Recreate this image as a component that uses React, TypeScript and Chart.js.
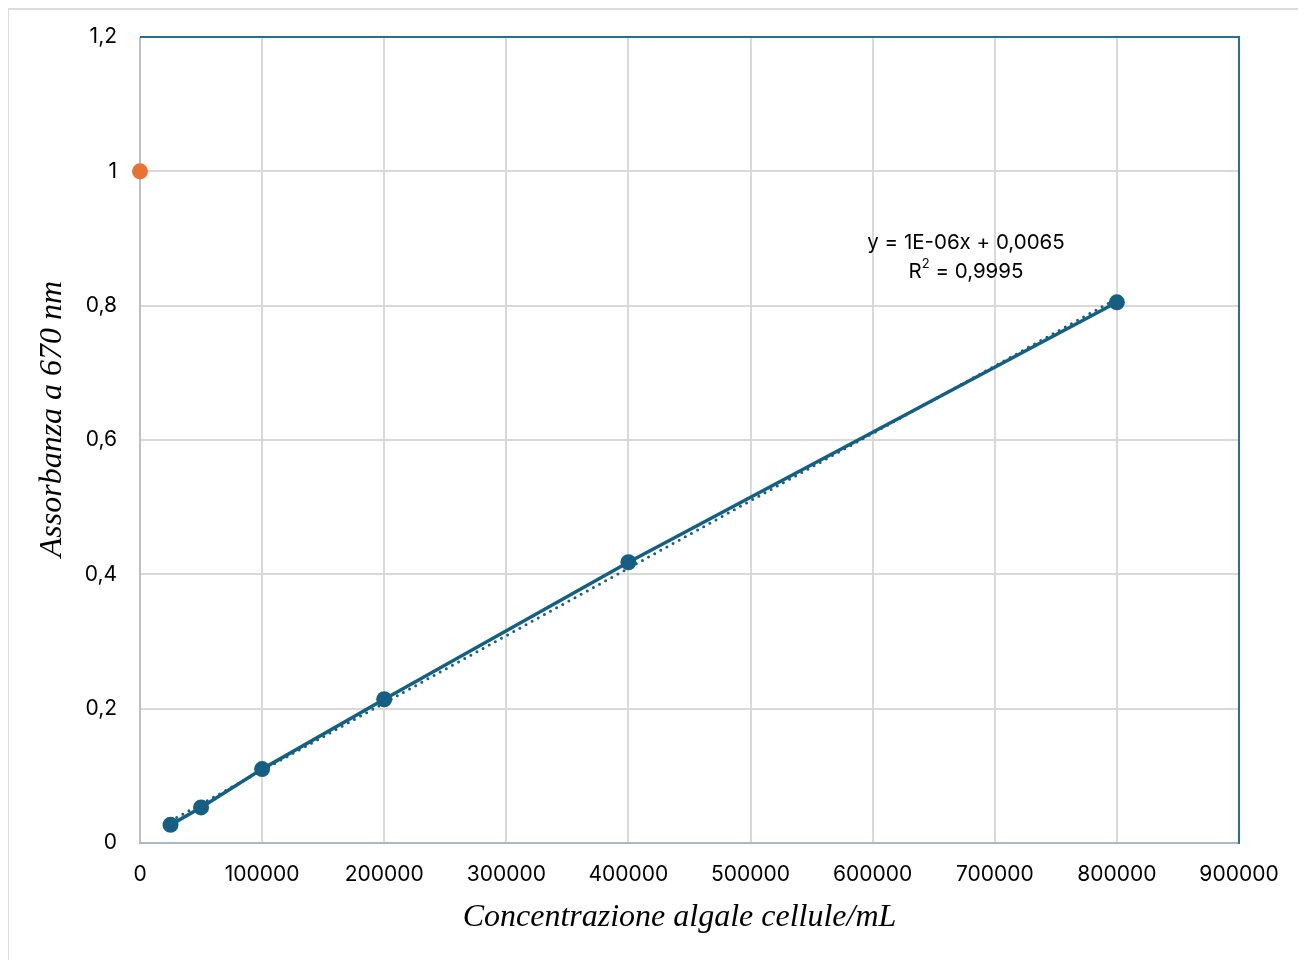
import React, { useEffect, useRef } from "react";
import { Chart, registerables } from "chart.js";

Chart.register(...registerables);

// Calibration data: algal concentration (cells/mL) vs absorbance at 670 nm
const concentrations = [25000, 50000, 100000, 200000, 400000, 800000];
const absorbances = [0.027, 0.053, 0.11, 0.214, 0.418, 0.805];

// Unknown sample marker
const sampleX = [0];
const sampleY = [1];

const xTicks = [0, 100000, 200000, 300000, 400000, 500000, 600000, 700000, 800000, 900000];
const yTicks = [0, 0.2, 0.4, 0.6, 0.8, 1, 1.2];

const equationLine = "y = 1E-06x + 0,0065";
const r2Prefix = "R";
const r2Value = " = 0,9995";

const xTitle = "Concentrazione algale cellule/mL";
const yTitle = "Assorbanza a 670 nm";

const BLUE = "#156082";
const ORANGE = "#E97132";
const GRID = "#d9d9d9";
const SANS = "Inter, 'Noto Sans', sans-serif";

// Least-squares linear trendline over the calibration points
function linearFit(xs: number[], ys: number[]) {
  const n = xs.length;
  const mx = xs.reduce((a, b) => a + b, 0) / n;
  const my = ys.reduce((a, b) => a + b, 0) / n;
  let sxy = 0;
  let sxx = 0;
  for (let i = 0; i < n; i++) {
    sxy += (xs[i] - mx) * (ys[i] - my);
    sxx += (xs[i] - mx) * (xs[i] - mx);
  }
  const slope = sxy / sxx;
  return { slope, intercept: my - slope * mx };
}

const CANVAS_W = 1297;
const CANVAS_H = 952;
const AREA_LEFT = 132;
const AREA_TOP = 29;
const AREA_RIGHT = 1231;
const AREA_BOTTOM = 835;

const fmtComma = (v: number) => String(Math.round(v * 10) / 10).replace(".", ",");

export default function App() {
  const ref = useRef<HTMLCanvasElement | null>(null);

  useEffect(() => {
    if (!ref.current) return;
    const fit = linearFit(concentrations, absorbances);
    const xMin = concentrations[0];
    const xMax = concentrations[concentrations.length - 1];
    const trend = [
      { x: xMin, y: fit.slope * xMin + fit.intercept },
      { x: xMax, y: fit.slope * xMax + fit.intercept },
    ];

    const decor = {
      id: "decor",
      beforeDatasetsDraw(chart: any) {
        const { ctx, chartArea } = chart;
        const { left, right, top, bottom } = chartArea;
        ctx.save();
        // axis lines
        ctx.lineWidth = 2;
        ctx.strokeStyle = "#bfbfbf";
        ctx.beginPath();
        ctx.moveTo(left, top);
        ctx.lineTo(left, bottom);
        ctx.stroke();
        ctx.strokeStyle = "#a9b8c2";
        ctx.beginPath();
        ctx.moveTo(left - 1, bottom);
        ctx.lineTo(right, bottom);
        ctx.stroke();
        // frame on top and right
        ctx.strokeStyle = "#2a6e91";
        ctx.beginPath();
        ctx.moveTo(left, top);
        ctx.lineTo(right, top);
        ctx.lineTo(right, bottom + 1);
        ctx.stroke();
        ctx.restore();
      },
      afterDraw(chart: any) {
        const { ctx, chartArea } = chart;
        const { left, right } = chartArea;
        ctx.save();
        ctx.fillStyle = "#000";
        ctx.font = "italic 32px 'Liberation Serif', 'Times New Roman', serif";
        ctx.textAlign = "center";
        ctx.textBaseline = "middle";
        ctx.fillText(xTitle, (left + right) / 2 - 10, 910);
        ctx.translate(45, 411);
        ctx.rotate(-Math.PI / 2);
        ctx.fillText(yTitle, 0, 0);
        ctx.restore();

        // trendline equation
        ctx.save();
        ctx.fillStyle = "#000";
        ctx.font = `20.5px ${SANS}`;
        ctx.textBaseline = "middle";
        ctx.textAlign = "center";
        ctx.fillText(equationLine, 958, 235);
        const wR = ctx.measureText(r2Prefix).width;
        const wV = ctx.measureText(r2Value).width;
        ctx.font = `13px ${SANS}`;
        const wS = ctx.measureText("2").width;
        const total = wR + wS + wV;
        const startX = 958 - total / 2;
        ctx.textAlign = "left";
        ctx.font = `20.5px ${SANS}`;
        ctx.fillText(r2Prefix, startX, 264);
        ctx.font = `13px ${SANS}`;
        ctx.fillText("2", startX + wR, 256);
        ctx.font = `20.5px ${SANS}`;
        ctx.fillText(r2Value, startX + wR + wS, 264);
        ctx.restore();
      },
    };

    const chart = new Chart(ref.current, {
      type: "scatter",
      data: {
        datasets: [
          {
            label: "Trendline",
            data: trend,
            showLine: true,
            borderColor: BLUE,
            borderWidth: 3,
            borderDash: [0, 7],
            borderCapStyle: "round",
            pointRadius: 0,
            clip: false,
            order: 3,
          },
          {
            label: "Calibrazione",
            data: concentrations.map((x, i) => ({ x, y: absorbances[i] })),
            showLine: true,
            borderColor: BLUE,
            borderWidth: 3.5,
            backgroundColor: BLUE,
            pointBackgroundColor: BLUE,
            pointBorderColor: BLUE,
            pointRadius: 8,
            pointBorderWidth: 0,
            clip: false,
            order: 2,
          },
          {
            label: "Campione",
            data: sampleX.map((x, i) => ({ x, y: sampleY[i] })),
            backgroundColor: ORANGE,
            pointBackgroundColor: ORANGE,
            pointBorderColor: ORANGE,
            pointRadius: 8,
            pointBorderWidth: 0,
            clip: false,
            order: 1,
          },
        ],
      },
      options: {
        animation: false,
        responsive: false,
        devicePixelRatio: 1,
        layout: {
          padding: { top: AREA_TOP, right: CANVAS_W - AREA_RIGHT, left: 0, bottom: 0 },
        },
        plugins: {
          legend: { display: false },
          tooltip: { enabled: false },
        },
        scales: {
          x: {
            type: "linear",
            min: 0,
            max: 900000,
            afterFit(scale: any) {
              scale.height = CANVAS_H - AREA_BOTTOM;
              scale.paddingLeft = 0;
              scale.paddingRight = 0;
            },
            afterBuildTicks(scale: any) {
              scale.ticks = xTicks.map((v) => ({ value: v }));
            },
            grid: { color: GRID, lineWidth: 2, drawTicks: false },
            border: { display: false },
            ticks: {
              color: "#000",
              padding: 19,
              font: { family: SANS, size: 21 },
              callback: (v: any) => String(v),
              maxRotation: 0,
            },
          },
          y: {
            type: "linear",
            min: 0,
            max: 1.2,
            afterFit(scale: any) {
              scale.width = AREA_LEFT;
              scale.paddingTop = 0;
              scale.paddingBottom = 0;
            },
            afterBuildTicks(scale: any) {
              scale.ticks = yTicks.map((v) => ({ value: v }));
            },
            grid: { color: GRID, lineWidth: 2, drawTicks: false },
            border: { display: false },
            ticks: {
              color: "#000",
              padding: 23,
              font: { family: SANS, size: 21 },
              callback: (v: any) => fmtComma(Number(v)),
            },
          },
        },
      },
      plugins: [decor],
    });

    return () => chart.destroy();
  }, []);

  return (
    <div
      style={{
        position: "relative",
        width: 1298,
        height: 960,
        marginLeft: -1,
        boxSizing: "border-box",
        border: "2px solid #dcdcdc",
        background: "#fff",
      }}
    >
      <canvas
        ref={ref}
        width={CANVAS_W}
        height={CANVAS_H}
        style={{ position: "absolute", left: -1, top: -2, width: CANVAS_W, height: CANVAS_H }}
      />
    </div>
  );
}
